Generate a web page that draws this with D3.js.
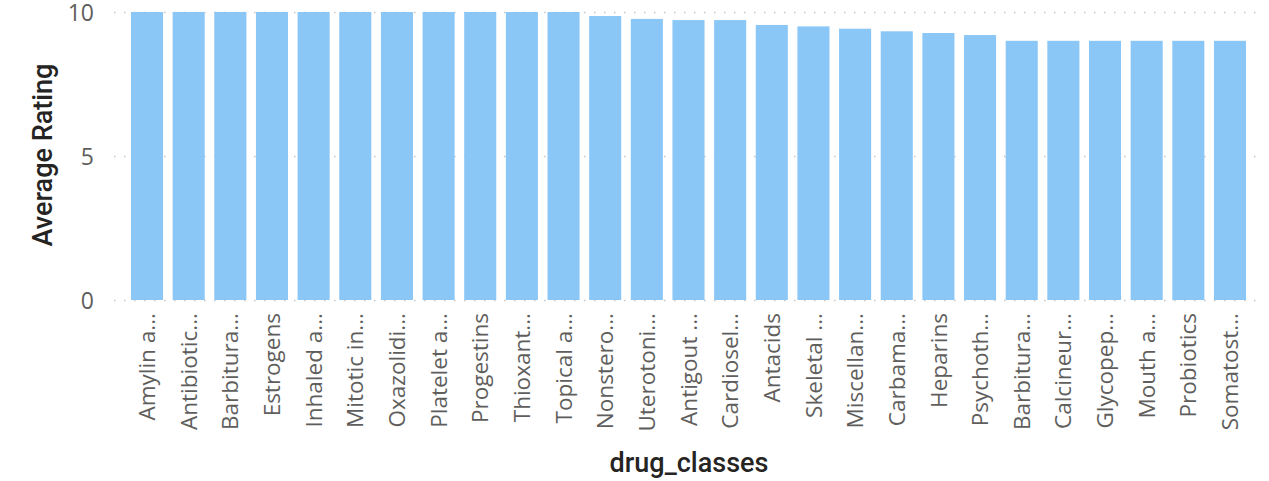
<!DOCTYPE html>
<html>
<head>
<meta charset="utf-8">
<script src="https://cdn.jsdelivr.net/npm/d3@7"></script>
<style>
  body { margin: 0; background: #fff; }
</style>
</head>
<body>
<div id="chart"></div>
<script>
// labels as shown in the picture (already truncated)
var classes = ["Amylin a...", "Antibiotic...", "Barbitura...", "Estrogens", "Inhaled a...",
  "Mitotic in...", "Oxazolidi...", "Platelet a...", "Progestins", "Thioxant...", "Topical a...",
  "Nonstero...", "Uterotoni...", "Antigout ...", "Cardiosel...", "Antacids", "Skeletal ...",
  "Miscellan...", "Carbama...", "Heparins", "Psychoth...", "Barbitura...", "Calcineur...",
  "Glycopep...", "Mouth a...", "Probiotics", "Somatost..."];
var ratings = [10, 10, 10, 10, 10, 10, 10, 10, 10, 10, 10,
  9.86, 9.76, 9.72, 9.72, 9.55, 9.5, 9.42, 9.33, 9.27, 9.2, 9.0, 9.0, 9.0, 9.0, 9.0, 9.0];
var yTicks = [0, 5, 10];

var data = classes.map(function(c, i) { return { key: i, name: c, value: ratings[i] }; });

var width = 1269, height = 481;

var svg = d3.select("#chart").append("svg")
    .attr("width", width)
    .attr("height", height);

var x = d3.scaleBand()
    .domain(data.map(function(d) { return d.key; }))
    .range([126.2, 1250.8])
    .paddingInner(0.23)
    .paddingOuter(0.115);

var y = d3.scaleLinear()
    .domain([0, 10])
    .range([300, 12]);

// dotted gridlines
svg.append("g")
    .selectAll("line")
    .data(yTicks)
    .enter()
    .append("line")
    .attr("x1", 114)
    .attr("x2", 1258)
    .attr("y1", function(d) { return y(d) + 0.5; })
    .attr("y2", function(d) { return y(d) + 0.5; })
    .style("stroke", "#c8c6c4")
    .style("stroke-width", 1.3)
    .style("stroke-dasharray", "1.5,8.5");

// bars
svg.append("g")
    .selectAll("rect")
    .data(data)
    .enter()
    .append("rect")
    .attr("x", function(d) { return x(d.key); })
    .attr("y", function(d) { return y(d.value); })
    .attr("width", x.bandwidth())
    .attr("height", function(d) { return y(0) - y(d.value); })
    .style("fill", "#8ac7f7");

// y axis
var yAxis = svg.append("g")
    .attr("transform", "translate(94,0)")
    .call(d3.axisLeft(y).tickValues(yTicks).tickSize(0).tickPadding(0));
yAxis.select(".domain").remove();
yAxis.selectAll("text")
    .attr("dy", "0.36em")
    .style("font-family", "'Segoe UI', 'Open Sans', sans-serif")
    .style("font-size", "23px")
    .style("fill", "#605e5c");

// x axis
var xAxis = svg.append("g")
    .attr("transform", "translate(0,300)")
    .call(d3.axisBottom(x).tickSize(0).tickFormat(function(k) { return classes[k]; }));
xAxis.select(".domain").remove();
xAxis.selectAll("text")
    .attr("transform", "rotate(-90)")
    .attr("x", -13)
    .attr("y", 0)
    .attr("dy", "0.36em")
    .attr("text-anchor", "end")
    .style("font-family", "'Segoe UI', 'Open Sans', sans-serif")
    .style("font-size", "22.5px")
    .style("fill", "#605e5c");

// axis titles
svg.append("text")
    .attr("transform", "translate(52,155) rotate(-90)")
    .attr("text-anchor", "middle")
    .style("font-family", "Roboto, sans-serif")
    .style("font-weight", "500")
    .style("font-size", "27px")
    .style("fill", "#252423")
    .text("Average Rating");

svg.append("text")
    .attr("x", 689)
    .attr("y", 472)
    .attr("text-anchor", "middle")
    .style("font-family", "Roboto, sans-serif")
    .style("font-weight", "500")
    .style("font-size", "27px")
    .style("fill", "#252423")
    .text("drug_classes");
</script>
</body>
</html>
